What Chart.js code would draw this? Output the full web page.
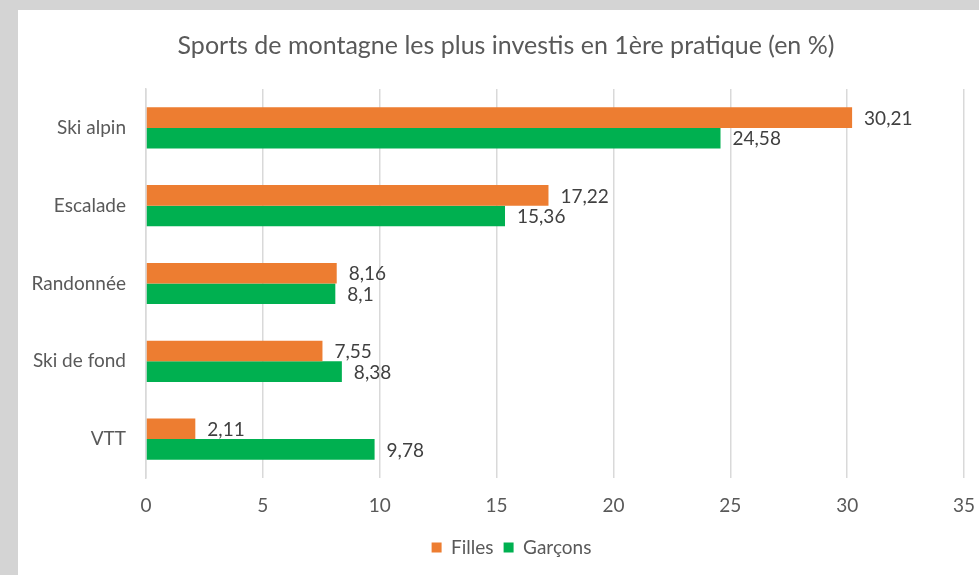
<!DOCTYPE html>
<html>
<head>
<meta charset="utf-8">
<script src="https://cdn.jsdelivr.net/npm/chart.js@4"></script>
<style>
  html, body { margin: 0; padding: 0; background: #d4d4d4; width: 979px; height: 575px; overflow: hidden; position: relative; }
  #wrap { position: absolute; left: 18px; top: 10px; width: 986px; height: 565px; background: #ffffff; }
  canvas { display: block; }
</style>
</head>
<body>
<div id="wrap"><canvas id="c" width="986" height="565"></canvas></div>
<script>
const title = "Sports de montagne les plus investis en 1ère pratique (en %)";
const categories = ["Ski alpin", "Escalade", "Randonnée", "Ski de fond", "VTT"];
const filles = [30.21, 17.22, 8.16, 7.55, 2.11];
const garcons = [24.58, 15.36, 8.1, 8.38, 9.78];
const seriesNames = ["Filles", "Garçons"];
const xTicks = [0, 5, 10, 15, 20, 25, 30, 35];

const FONT = "Lato, 'Open Sans', sans-serif";
const FS = 19;

const valueLabels = {
  id: 'valueLabels',
  afterDatasetsDraw(chart) {
    const ctx = chart.ctx;
    ctx.save();
    ctx.font = FS + "px " + FONT;
    ctx.fillStyle = "#404040";
    ctx.textBaseline = "middle";
    ctx.textAlign = "left";
    chart.data.datasets.forEach((ds, i) => {
      const meta = chart.getDatasetMeta(i);
      meta.data.forEach((bar, j) => {
        const txt = String(ds.data[j]).replace('.', ',');
        ctx.fillText(txt, bar.x + 12, bar.y + 1);
      });
    });
    ctx.restore();
  }
};

const titleDraw = {
  id: 'titleDraw',
  afterDraw(chart) {
    const ctx = chart.ctx;
    ctx.save();
    ctx.font = "25px " + FONT;
    ctx.fillStyle = "#595959";
    ctx.textBaseline = "middle";
    ctx.textAlign = "center";
    ctx.fillText(title, 488, 36);
    ctx.restore();
  }
};

new Chart(document.getElementById('c'), {
  type: 'bar',
  data: {
    labels: categories,
    datasets: [
      { label: seriesNames[0], data: filles, backgroundColor: '#ED7D31', borderWidth: 0 },
      { label: seriesNames[1], data: garcons, backgroundColor: '#00B050', borderWidth: 0 }
    ]
  },
  options: {
    indexAxis: 'y',
    responsive: false,
    animation: false,
    devicePixelRatio: 1,
    categoryPercentage: 0.53,
    barPercentage: 1.0,
    layout: { padding: { left: 15, right: 14, top: 79, bottom: 8 } },
    scales: {
      x: {
        min: 0, max: 36.11,
        afterBuildTicks: (s) => { s.ticks = xTicks.map(v => ({ value: v })); },
        grid: { color: '#d9d9d9', lineWidth: 1.5, drawTicks: true, tickLength: 16, tickColor: 'rgba(0,0,0,0)' },
        border: { display: false },
        ticks: { color: '#595959', font: { family: FONT, size: FS }, padding: 0 },
        afterFit: (s) => { s.height = 50; }
      },
      y: {
        grid: { display: false, drawTicks: false },
        border: { display: true, color: '#d9d9d9', width: 1.5 },
        ticks: { color: '#595959', font: { family: FONT, size: FS }, padding: 20 },
        afterFit: (s) => { s.width = 113; }
      }
    },
    plugins: {
      title: { display: false },
      legend: {
        display: true,
        position: 'bottom',
        labels: {
          color: '#595959',
          font: { family: FONT, size: FS },
          boxWidth: 10, boxHeight: 10,
          padding: 10
        }
      },
      tooltip: { enabled: false }
    }
  },
  plugins: [valueLabels, titleDraw]
});
</script>
</body>
</html>
